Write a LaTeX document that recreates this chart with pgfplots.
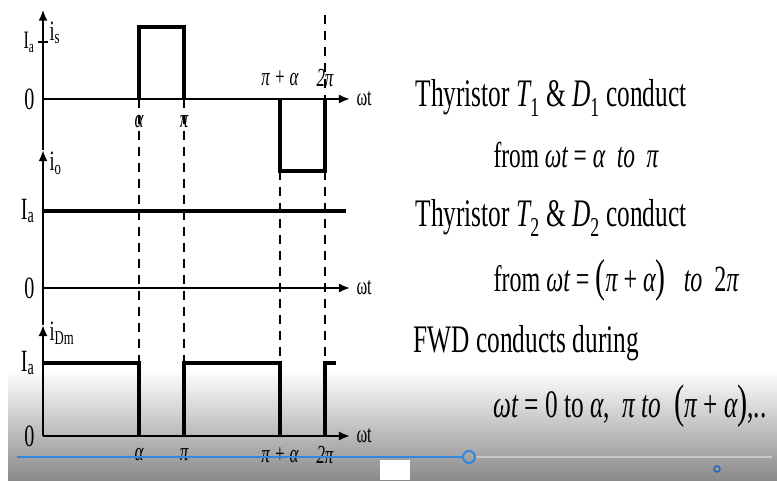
\documentclass[border=0pt]{standalone}
\usepackage{fontspec}
\setmainfont{Liberation Serif}[FakeStretch=0.65]
\usepackage{pgfplots}
\pgfplotsset{compat=1.18}
\usetikzlibrary{arrows.meta}

\definecolor{barbg}{RGB}{138,138,138}
\definecolor{track}{RGB}{200,200,200}
\definecolor{progress}{RGB}{52,136,220}
\definecolor{knob}{RGB}{40,110,180}

\newcommand\fs[1]{\fontsize{#1}{#1}\selectfont}
% angles in radians: alpha, pi, pi+alpha, 2pi
\def\aA{2.14}
\def\aP{3.1416}
\def\aPA{5.28}
\def\aTP{6.2832}

\pgfplotsset{
  wave/.style={axis lines=middle, xmin=0, xmax=6.84, x=44.88pt,
    anchor=south west, xtick=\empty, ytick=\empty, clip=false,
    axis line style={line width=2pt, -{Latex[length=11pt,width=9pt]}}},
  sig/.style={black, line width=3.6pt, line join=miter, no marks},
}
\tikzset{
  ylab/.style={anchor=east, xshift=-5pt, font=\fs{31}},
  glab/.style={font=\fs{26}\itshape},
}

\begin{document}
\begin{tikzpicture}[x=1pt,y=1pt]
\useasboundingbox (0pt,0pt) rectangle (777pt,480pt);
\fill[white] (0pt,0pt) rectangle (777pt,480pt);
% player bar fading in at the bottom
\shade[top color=white, bottom color=barbg] (8pt,0pt) rectangle (777pt,110pt);

% ---- supply current i_s ----  (zero line at y=381pt)
\begin{axis}[wave, at={(43pt,329.9pt)}, y=72pt, ymin=-0.71, ymax=1.24]
  \addplot[sig] coordinates {(\aA,0) (\aA,1) (\aP,1) (\aP,0)};
  \addplot[sig] coordinates {(\aPA,0) (\aPA,-1) (\aTP,-1) (\aTP,0)};
  \draw[line width=1.5pt] (axis cs:-0.12,0.79) -- (axis cs:0.12,0.79);
  \node[anchor=east, xshift=-5pt, font=\fs{25}] at (axis cs:0,0.79) {I\textsubscript{a}};
  \node[ylab] at (axis cs:0,0) {0};
  \node[anchor=west, xshift=3pt, font=\fs{28}] at (axis cs:0,0.92) {i\textsubscript{s}};
  \node[anchor=west, xshift=3pt, font=\fs{25}] at (axis cs:6.84,0) {ωt};
  \node[glab] at (axis cs:\aA,-0.31) {α};
  \node[glab] at (axis cs:\aP,-0.31) {π};
  \node[glab] at (axis cs:\aPA,0.29) {π + α};
  \node[glab] at (axis cs:\aTP,0.29) {2π};
  \coordinate (sA) at (axis cs:\aA,0);
  \coordinate (sP) at (axis cs:\aP,0);
  \coordinate (sPA) at (axis cs:\aPA,-1);
  \coordinate (sTP) at (axis cs:\aTP,-1);
  \coordinate (sTPtop) at (axis cs:\aTP,1.17);
  \coordinate (sTP0) at (axis cs:\aTP,0);
\end{axis}

% ---- load current i_o ----  (zero line at y=192pt)
\begin{axis}[wave, at={(43pt,155.04pt)}, y=77pt, ymin=-0.48, ymax=1.79]
  \addplot[sig] coordinates {(0,1) (6.75,1)};
  \node[ylab] at (axis cs:0,1) {I\textsubscript{a}};
  \node[ylab] at (axis cs:0,0) {0};
  \node[anchor=west, xshift=3pt, font=\fs{28}] at (axis cs:0,1.62) {i\textsubscript{o}};
  \node[anchor=west, xshift=3pt, font=\fs{25}] at (axis cs:6.84,0) {ωt};
\end{axis}

% ---- freewheeling diode current i_Dm ----  (zero line at y=44pt)
\begin{axis}[wave, at={(43pt,44pt)}, y=73pt, ymin=0, ymax=1.52]
  \addplot[sig] coordinates {(0,1) (\aA,1) (\aA,0)};
  \addplot[sig] coordinates {(\aP,0) (\aP,1) (\aPA,1) (\aPA,0)};
  \addplot[sig] coordinates {(\aTP,0) (\aTP,1) (6.53,1)};
  \node[ylab] at (axis cs:0,1) {I\textsubscript{a}};
  \node[ylab] at (axis cs:0,0) {0};
  \node[anchor=west, xshift=3pt, font=\fs{28}] at (axis cs:0,1.41) {i\textsubscript{Dm}};
  \node[anchor=west, xshift=3pt, font=\fs{25}] at (axis cs:6.84,0) {ωt};
  \node[glab] at (axis cs:\aA,-0.26) {α};
  \node[glab] at (axis cs:\aP,-0.26) {π};
  \node[glab] at (axis cs:\aPA,-0.26) {π + α};
  \node[glab] at (axis cs:\aTP,-0.26) {2π};
  \coordinate (dA) at (axis cs:\aA,1);
  \coordinate (dP) at (axis cs:\aP,1);
  \coordinate (dPA) at (axis cs:\aPA,1);
  \coordinate (dTP) at (axis cs:\aTP,1);
\end{axis}

% switching instants carried through all three traces
\begin{scope}[line width=1.2pt, dash pattern=on 9pt off 7pt]
  \draw (sA) -- (dA);
  \draw (sP) -- (dP);
  \draw (sPA) -- (dPA);
  \draw (sTP) -- (dTP);
  \draw (sTPtop) -- (sTP0);
\end{scope}

% conduction intervals
\node[anchor=base west, font=\fs{39}] at (412pt,373pt)
  {Thyristor {\itshape T}\textsubscript{1} \& {\itshape D}\textsubscript{1} conduct};
\node[anchor=base west, font=\fs{36}] at (490pt,312pt)
  {from {\itshape ωt} = {\itshape α} \ {\itshape to} \ {\itshape π}};
\node[anchor=base west, font=\fs{39}] at (412pt,253pt)
  {Thyristor {\itshape T}\textsubscript{2} \& {\itshape D}\textsubscript{2} conduct};
\node[anchor=base west, font=\fs{37}] at (490pt,188pt)
  {from {\itshape ωt} = {\fs{46}(}{\itshape π} + {\itshape α}{\fs{46})} \ \ {\itshape to} \ 2{\itshape π}};
\node[anchor=base west, font=\fs{39}] at (410pt,128pt)
  {FWD conducts during};
\node[anchor=base west, font=\fs{39}] at (490pt,63pt)
  {{\itshape ωt} = 0 to {\itshape α}, \ {\itshape π to} \ {\fs{47}(}{\itshape π} + {\itshape α}{\fs{47})},..};

% player controls
\draw[line width=1.5pt, track] (475pt,23pt) -- (772pt,23pt);
\draw[line width=2.5pt, progress] (17pt,23pt) -- (463pt,23pt);
\draw[line width=2pt, progress] (469pt,23pt) circle (6pt);
\fill[white] (380pt,0pt) rectangle (410pt,20pt);
\draw[line width=1.5pt, knob] (717pt,11pt) circle (3pt);
\end{tikzpicture}
\end{document}
